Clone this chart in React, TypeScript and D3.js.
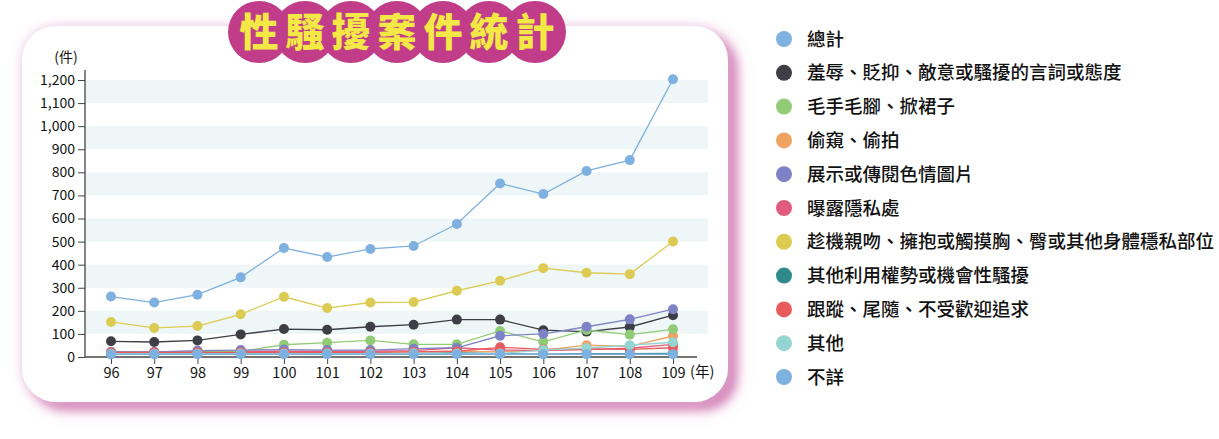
import { useEffect, useRef } from 'react';
import * as d3 from 'd3';

const YEARS = ['96', '97', '98', '99', '100', '101', '102', '103', '104', '105', '106', '107', '108', '109'];
const Y_TICKS = [0, 100, 200, 300, 400, 500, 600, 700, 800, 900, 1000, 1100, 1200];
const BANDS = [100, 300, 500, 700, 900, 1100];
const TITLE = '性騷擾案件統計';

const SERIES_NAMES = [
  '總計',
  '羞辱、貶抑、敵意或騷擾的言詞或態度',
  '毛手毛腳、掀裙子',
  '偷窺、偷拍',
  '展示或傳閱色情圖片',
  '曝露隱私處',
  '趁機親吻、擁抱或觸摸胸、臀或其他身體穩私部位',
  '其他利用權勢或機會性騷擾',
  '跟蹤、尾隨、不受歡迎追求',
  '其他',
  '不詳',
];
const SERIES_COLORS = [
  '#7eb0e0', '#3d3e46', '#92cb76', '#f0a263', '#7d83c6', '#e05c7e',
  '#dccb52', '#2f8b89', '#e85c5c', '#94d5d1', '#7eb0e0',
];

const TOTAL = [262, 236, 270, 345, 472, 433, 468, 481, 576, 752, 706, 806, 853, 1203];
const INSULT = [68, 65, 72, 98, 121, 118, 131, 140, 162, 162, 116, 110, 130, 181];
const GROPE = [20, 20, 22, 24, 53, 62, 72, 55, 55, 113, 66, 117, 97, 120];
const PEEP = [15, 16, 18, 20, 18, 18, 20, 22, 25, 22, 30, 51, 46, 91];
const PORN = [22, 22, 28, 30, 32, 30, 30, 36, 40, 92, 100, 131, 163, 207];
const EXPOSE = [22, 22, 24, 25, 25, 25, 25, 28, 40, 30, 28, 32, 38, 55];
const KISS = [152, 126, 134, 185, 261, 212, 236, 238, 287, 330, 385, 365, 359, 500];
const POWER = [12, 12, 14, 14, 14, 14, 14, 15, 18, 14, 12, 14, 14, 16];
const STALK = [20, 20, 20, 20, 20, 20, 20, 22, 25, 42, 33, 35, 33, 40];
const OTHER = [14, 14, 14, 15, 15, 15, 15, 16, 15, 15, 30, 39, 51, 64];
const UNKNOWN = [12, 12, 12, 12, 12, 12, 12, 12, 12, 12, 12, 12, 12, 12];

const SERIES = [TOTAL, INSULT, GROPE, PEEP, PORN, EXPOSE, KISS, POWER, STALK, OTHER, UNKNOWN];
// drawn bottom to top
const DRAW_ORDER = [0, 6, 1, 3, 5, 7, 2, 4, 8, 9, 10];

const FONT = '"Noto Sans CJK TC", "Noto Sans", sans-serif';

export default function App() {
  const svgRef = useRef<SVGSVGElement>(null);

  useEffect(() => {
    const svg = d3.select(svgRef.current!);
    svg.selectAll('*').remove();

    const defs = svg.append('defs');
    const f = defs.append('filter').attr('id', 'glow')
      .attr('x', '-10%').attr('y', '-10%').attr('width', '120%').attr('height', '125%');
    f.append('feDropShadow').attr('dx', 0).attr('dy', 0).attr('stdDeviation', 6)
      .attr('flood-color', '#e6b4d6').attr('flood-opacity', 0.7).attr('result', 'a');
    f.append('feDropShadow').attr('dx', 9).attr('dy', 8).attr('stdDeviation', 4)
      .attr('flood-color', '#d27cb6').attr('flood-opacity', 0.9);

    svg.append('rect')
      .attr('x', 22).attr('y', 26).attr('width', 706).attr('height', 376)
      .attr('rx', 34).attr('fill', '#fff').attr('filter', 'url(#glow)');

    const x = d3.scalePoint<string>().domain(YEARS).range([111, 673]);
    const y = d3.scaleLinear().domain([0, 1200]).range([357, 80]);

    const g = svg.append('g');

    g.selectAll('rect.band').data(BANDS).join('rect')
      .attr('x', 85).attr('width', 708 - 85)
      .attr('y', (d) => y(d + 100)).attr('height', (d) => y(d) - y(d + 100))
      .attr('fill', '#eef6f8');

    // y axis
    g.append('g')
      .attr('transform', 'translate(85,0)')
      .call(d3.axisLeft(y).tickValues(Y_TICKS).tickSize(7).tickPadding(3).tickFormat(d3.format(',')))
      .call((ax) => {
        ax.select('.domain').attr('stroke', '#444').attr('stroke-width', 1.3).attr('d', `M0,${y(1200) - 10}V${y(0)}`);
        ax.selectAll('.tick line').attr('stroke', '#444');
        ax.selectAll('.tick text').attr('fill', '#111').attr('font-size', 14).attr('font-family', FONT);
      });

    // x axis
    g.append('g')
      .attr('transform', `translate(0,${y(0)})`)
      .call(d3.axisBottom(x).tickSize(7).tickPadding(4))
      .call((ax) => {
        ax.select('.domain').attr('stroke', '#444').attr('stroke-width', 1.3).attr('d', 'M85,0H697');
        ax.selectAll('.tick line').attr('stroke', '#444');
        ax.selectAll('.tick text').attr('fill', '#111').attr('font-size', 14.5).attr('font-family', FONT);
      });

    g.append('text').attr('x', 66).attr('y', 62).attr('text-anchor', 'middle')
      .attr('font-size', 14).attr('font-family', FONT).attr('fill', '#111').text('(件)');
    g.append('text').attr('x', 690).attr('y', 377)
      .attr('font-size', 14.5).attr('font-family', FONT).attr('fill', '#111').text('(年)');

    const line = d3.line<number>().x((_, i) => x(YEARS[i])!).y((d) => y(d));

    for (const si of DRAW_ORDER) {
      const data = SERIES[si];
      const c = SERIES_COLORS[si];
      const sg = g.append('g');
      sg.append('path').attr('d', line(data)).attr('fill', 'none')
        .attr('stroke', c).attr('stroke-width', 1.3);
      sg.selectAll('circle').data(data).join('circle')
        .attr('cx', (_, i) => x(YEARS[i])!).attr('cy', (d) => y(d)).attr('r', 5)
        .attr('fill', c);
    }

    // title
    const tg = svg.append('g');
    TITLE.split('').forEach((ch, i) => {
      tg.append('circle').attr('cx', 259 + i * 46).attr('cy', 32).attr('r', 31).attr('fill', '#c13c89');
    });
    TITLE.split('').forEach((ch, i) => {
      tg.append('text').attr('x', 259 + i * 46).attr('y', 32).attr('dy', '0.36em')
        .attr('text-anchor', 'middle').attr('font-size', 39).attr('font-weight', 900)
        .attr('font-family', FONT).attr('fill', '#f4e846').text(ch);
    });

    // legend
    const lg = svg.append('g');
    SERIES_NAMES.forEach((name, i) => {
      const cy = 39 + i * 33.8;
      lg.append('circle').attr('cx', 784).attr('cy', cy).attr('r', 8).attr('fill', SERIES_COLORS[i]);
      lg.append('text').attr('x', 807).attr('y', cy).attr('dy', '0.36em')
        .attr('font-size', 18.5).attr('font-weight', 500).attr('font-family', FONT).attr('fill', '#111').text(name);
    });
  }, []);

  return (
    <svg ref={svgRef} width={1219} height={439}
      style={{ position: 'absolute', left: 0, top: 0, background: '#fff' }} />
  );
}
